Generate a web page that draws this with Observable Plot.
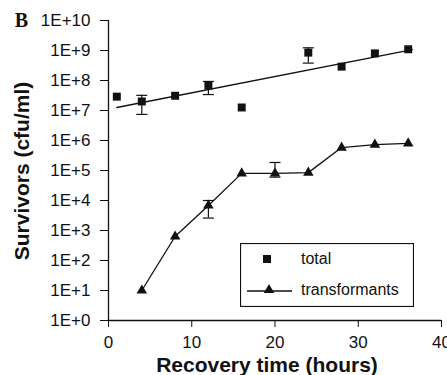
<!DOCTYPE html>
<html>
<head>
<meta charset="utf-8">
<script src="https://cdn.jsdelivr.net/npm/d3@7"></script>
<script src="https://cdn.jsdelivr.net/npm/@observablehq/plot@0.6"></script>
<style>
  html, body { margin: 0; padding: 0; background: #fff; }
  #wrap { position: relative; width: 447px; height: 375px; overflow: hidden; }
  #legend { position: absolute; left: 240px; top: 243px; }
</style>
</head>
<body>
<div id="wrap"></div>
<script>
// ---- data ----
const totalHours = [1, 4, 8, 12, 16, 24, 28, 32, 36];
const totalValues = [2.9e7, 2.0e7, 3.1e7, 6.8e7, 1.26e7, 8.5e8, 2.9e8, 8.0e8, 1.1e9];
const totalErrHours = [4, 12, 24];
const totalErrLow = [7.4e6, 3.4e7, 3.8e8];
const totalErrHigh = [3.2e7, 9.3e7, 1.23e9];
const trendHours = [1, 36.5];
const trendValues = [1.26e7, 1.07e9];

const transHours = [4, 8, 12, 16, 20, 24, 28, 32, 36];
const transValues = [1.0e1, 6.3e2, 6.8e3, 8.0e4, 8.0e4, 8.5e4, 5.8e5, 7.3e5, 8.0e5];
const transErrHours = [12, 20];
const transErrLow = [2.6e3, 6.0e4];
const transErrHigh = [1.0e4, 1.85e5];

const xTicks = [0, 10, 20, 30, 40];
const yTicks = [1, 1e1, 1e2, 1e3, 1e4, 1e5, 1e6, 1e7, 1e8, 1e9, 1e10];
const yTickLabels = ["1E+0", "1E+1", "1E+2", "1E+3", "1E+4", "1E+5", "1E+6", "1E+7", "1E+8", "1E+9", "1E+10"];
const seriesNames = ["total", "transformants"];
const xTitle = "Recovery time (hours)";
const yTitle = "Survivors (cfu/ml)";
const panelLabel = "B";

// ---- build ----
const ink = "#111";
const font = "'Liberation Sans', Arial, Helvetica, sans-serif";
const total = totalHours.map((h, i) => ({h, v: totalValues[i]}));
const trend = trendHours.map((h, i) => ({h, v: trendValues[i]}));
const trans = transHours.map((h, i) => ({h, v: transValues[i]}));
const errs = [
  ...totalErrHours.map((h, i) => ({h, lo: totalErrLow[i], hi: totalErrHigh[i]})),
  ...transErrHours.map((h, i) => ({h, lo: transErrLow[i], hi: transErrHigh[i]}))
];
const caps = errs.flatMap(d => [{h: d.h, v: d.lo}, {h: d.h, v: d.hi}]);
const capSymbol = {
  draw(ctx, size) { const w = 5.5; ctx.moveTo(-w, 0); ctx.lineTo(w, 0); }
};

const chart = Plot.plot({
  width: 447,
  height: 375,
  marginTop: 20,
  marginLeft: 108,
  marginRight: 6,
  marginBottom: 55,
  style: {fontFamily: font, color: ink, background: "#fff", overflow: "visible"},
  x: {domain: [0, 40]},
  y: {type: "log", domain: [1, 1e10]},
  marks: [
    Plot.axisY({ticks: yTicks, tickFormat: d => yTickLabels[yTicks.indexOf(d)], tickSize: 8, tickPadding: 10, fontSize: 17, label: null, stroke: ink}),
    Plot.axisX({ticks: xTicks, tickSize: 7, tickPadding: 8, fontSize: 17, label: null, stroke: ink}),
    Plot.ruleX([0], {stroke: ink, strokeWidth: 1.3}),
    Plot.ruleY([1], {stroke: ink, strokeWidth: 1.3}),
    Plot.line(trend, {x: "h", y: "v", stroke: ink, strokeWidth: 1.3}),
    Plot.line(trans, {x: "h", y: "v", stroke: ink, strokeWidth: 1.3}),
    Plot.ruleX(errs, {x: "h", y1: "lo", y2: "hi", stroke: ink, strokeWidth: 1.2}),
    Plot.dot(caps, {x: "h", y: "v", symbol: capSymbol, stroke: ink, strokeWidth: 1.2, r: 3}),
    Plot.dot(total, {x: "h", y: "v", symbol: "square", fill: ink, r: 4.5}),
    Plot.dot(trans, {x: "h", y: "v", symbol: "triangle", fill: ink, r: 3.9})
  ]
});
document.getElementById("wrap").appendChild(chart);

// titles
const svg = d3.select(chart);
svg.append("text").attr("transform", "translate(22,171) rotate(-90)")
  .attr("text-anchor", "middle").attr("dy", "0.35em")
  .attr("font-family", font).attr("font-size", 21).attr("font-weight", "bold").attr("fill", ink)
  .text(yTitle);
svg.append("text").attr("x", 267).attr("y", 372)
  .attr("text-anchor", "middle")
  .attr("font-family", font).attr("font-size", 21).attr("font-weight", "bold").attr("fill", ink)
  .text(xTitle);
svg.append("text").attr("x", 21.5).attr("y", 26.5)
  .attr("text-anchor", "middle")
  .attr("font-family", "'Liberation Serif', 'Times New Roman', serif").attr("font-size", 20).attr("font-weight", "bold").attr("fill", ink)
  .text(panelLabel);

// legend
const ns = "http://www.w3.org/2000/svg";
const lg = d3.select("#wrap").append("svg").attr("id", "legend")
  .attr("xmlns", ns).attr("width", 174).attr("height", 64);
lg.append("rect").attr("x", 0.5).attr("y", 0.5).attr("width", 173).attr("height", 63)
  .attr("fill", "#fff").attr("stroke", ink).attr("stroke-width", 1.2);
lg.append("path").attr("transform", "translate(27,16)")
  .attr("d", d3.symbol(d3.symbolSquare, Math.PI * 4.5 * 4.5)()).attr("fill", ink);
lg.append("line").attr("x1", 7).attr("x2", 52).attr("y1", 48).attr("y2", 48)
  .attr("stroke", ink).attr("stroke-width", 1.3);
lg.append("path").attr("transform", "translate(29,47)")
  .attr("d", d3.symbol(d3.symbolTriangle, Math.PI * 3.9 * 3.9)()).attr("fill", ink);
lg.selectAll("text.s").data(seriesNames).join("text")
  .attr("x", 61).attr("y", (d, i) => i === 0 ? 21 : 52)
  .attr("font-family", font).attr("font-size", 16).attr("fill", ink)
  .text(d => d);
</script>
</body>
</html>
